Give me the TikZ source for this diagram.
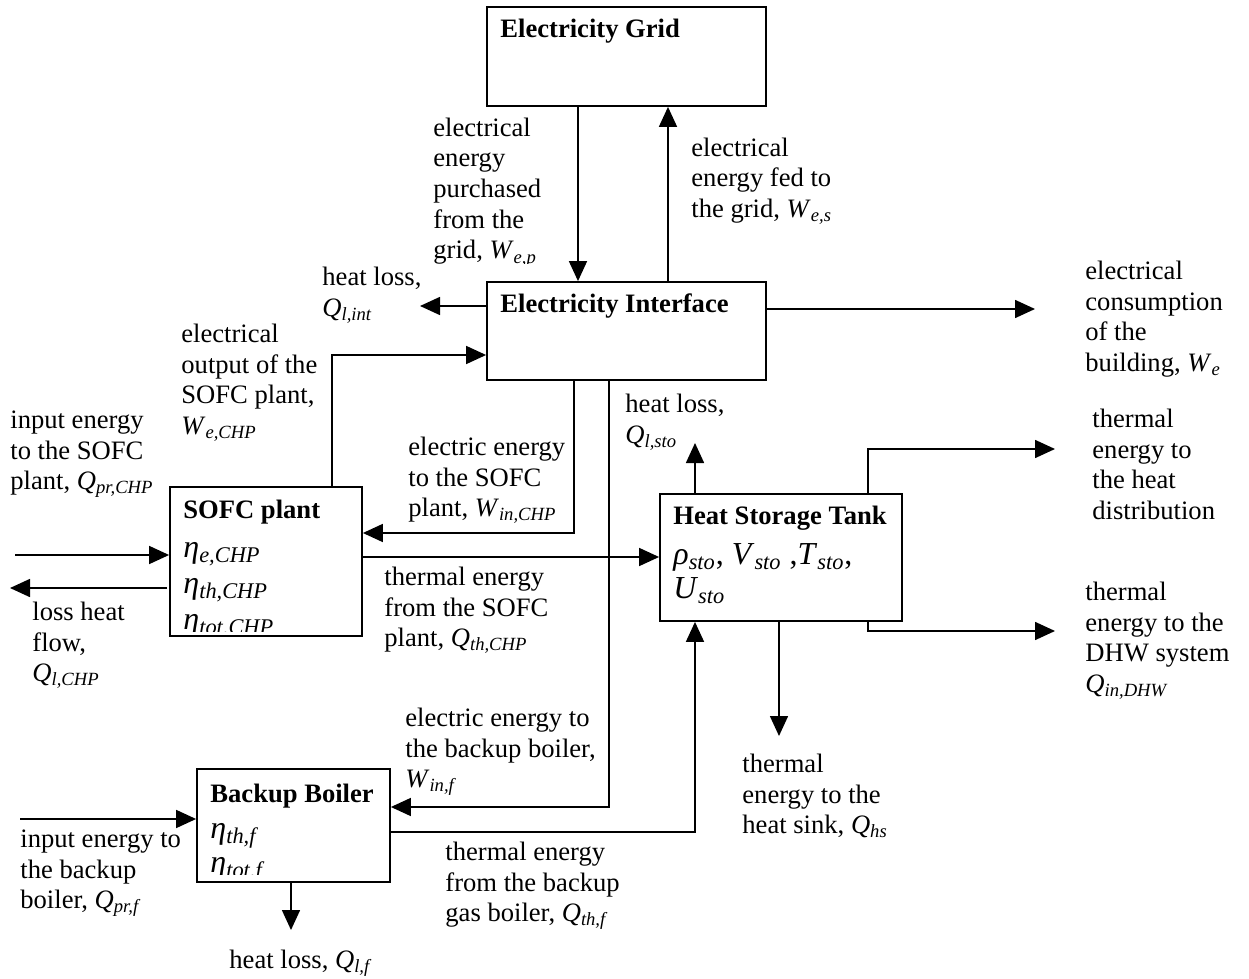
\documentclass[tikz,border=0pt]{standalone}
\usepackage{fontspec}
\setmainfont{Liberation Serif}
\usetikzlibrary{arrows.meta,fit}
\newcommand\sbs[2]{\textit{#1}\textsubscript{\textit{#2}}}
\newcommand\fs{\rule{0pt}{10pt}}
\tikzset{
 box/.style={draw, line width=0.9pt, inner sep=0pt},
 lbl/.style={anchor=north west, inner sep=0pt, align=left, font=\fontsize{13.3}{15.3}\selectfont},
 ttl/.style={anchor=base west, inner sep=0pt, font=\fontsize{13.3}{15.3}\selectfont\bfseries},
 prm/.style={anchor=base west, inner sep=0pt, font=\fontsize{16}{18}\selectfont},
 flow/.style={line width=0.8pt, -{Triangle[length=10pt,width=9pt]}},
}
\begin{document}
\begin{tikzpicture}[x=0.5pt,y=-0.5pt]
\useasboundingbox (0,0) rectangle (1249,979);
% boxes
\node[box, fit={(487,7) (766,106)}] (grid) {};
\node[box, fit={(487,282) (766,380)}] (iface) {};
\node[box, fit={(170,487) (362,636)}] (sofc) {};
\node[box, fit={(660,494) (902,621)}] (tank) {};
\node[box, fit={(197,769) (390,882)}] (boil) {};
% titles
\node[ttl] (tgrid) at (500,38) {Electricity Grid};
\node[ttl] (tiface) at (500,313) {Electricity Interface};
\node[ttl] (tsofc) at (183,518) {SOFC plant};
\node[ttl] (ttank) at (673,524) {Heat Storage Tank};
\node[ttl] (tboil) at (210,802) {Backup Boiler};
% parameters
\node[prm] (p1) at (183,557) {\sbs{η}{e,CHP}};
\node[prm] (p2) at (183,593) {\sbs{η}{th,CHP}};
\begin{scope}
\clip (170,487) rectangle (362,631);
\node[prm] (p3) at (183,629) {\sbs{η}{tot,CHP}};
\end{scope}
\node[prm] (p4) at (673,564) {\sbs{ρ}{sto}, \sbs{V}{sto} ,\sbs{T}{sto},};
\node[prm] (p5) at (673,598) {\sbs{U}{sto}};
\node[prm] (p6) at (210,838) {\sbs{η}{th,f}};
\begin{scope}
\clip (197,769) rectangle (390,874);
\node[prm] (p7) at (210,872) {\sbs{η}{tot,f}};
\end{scope}
% coordinates
\coordinate (xa) at (578,0);
\coordinate (xb) at (668,0);
\coordinate (hl1) at (420,306);
\coordinate (we) at (1035,309);
\coordinate (xc) at (332,355);
\coordinate (xd) at (574,533);
\coordinate (yq) at (0,557);
\coordinate (xe) at (609,807);
\coordinate (xf) at (695,832);
\coordinate (hl2) at (695,443);
\coordinate (xg) at (868,449);
\coordinate (hd) at (1055,449);
\coordinate (xh) at (868,631);
\coordinate (dhw) at (1055,631);
\coordinate (hs) at (779,736);
\coordinate (in1) at (15,555);
\coordinate (ls0) at (167,588);
\coordinate (ls1) at (10,588);
\coordinate (in2) at (20,819);
\coordinate (hl3) at (291,930);
% connectors
\draw[flow] (grid.south -| xa) -- (iface.north -| xa);
\draw[flow] (iface.north -| xb) -- (grid.south -| xb);
\draw[flow] (iface.west |- hl1) -- (hl1);
\draw[flow] (iface.east |- we) -- (we);
\draw[flow] (sofc.north -| xc) |- (iface.west |- xc);
\draw[flow] (iface.south -| xd) |- (sofc.east |- xd);
\draw[flow] (sofc.east |- yq) -- (tank.west |- yq);
\draw[flow] (iface.south -| xe) |- (boil.east |- xe);
\draw[flow] (boil.east |- xf) -| (tank.south -| xf);
\draw[flow] (tank.north -| hl2) -- (hl2);
\draw[flow] (tank.north -| xg) |- (hd);
\draw[flow] (tank.south -| xh) |- (dhw);
\draw[flow] (tank.south -| hs) -- (hs);
\draw[flow] (in1) -- (sofc.west |- in1);
\draw[flow] (ls0) -- (ls1);
\draw[flow] (in2) -- (boil.west |- in2);
\draw[flow] (boil.south -| hl3) -- (hl3);
% labels
\begin{scope}
\clip (400,110) rectangle (570,263);
\node[lbl] (l1) at (433,116) {\fs electrical\\energy\\purchased\\from the\\grid, \sbs{W}{e,p}};
\end{scope}
\node[lbl] (l2) at (691,136) {\fs electrical\\energy fed to\\the grid, \sbs{W}{e,s}};
\node[lbl] (l3) at (322,265) {\fs heat loss,\\\sbs{Q}{l,int}};
\node[lbl] (l4) at (181,322) {\fs electrical\\output of the\\SOFC plant,\\\sbs{W}{e,CHP}};
\node[lbl] (l5) at (10,408) {\fs input energy\\to the SOFC\\plant, \sbs{Q}{pr,CHP}};
\begin{scope}
\clip (0,595) rectangle (165,688);
\node[lbl] (l6) at (32,600) {\fs loss heat\\flow,\\\sbs{Q}{l,CHP}};
\end{scope}
\node[lbl] (l7) at (408,435) {\fs electric energy\\to the SOFC\\plant, \sbs{W}{in,CHP}};
\node[lbl] (l8) at (384,565) {\fs thermal energy\\from the SOFC\\plant, \sbs{Q}{th,CHP}};
\node[lbl] (l9) at (625,392) {\fs heat loss,\\\sbs{Q}{l,sto}};
\node[lbl] (l10) at (1092,407) {\fs thermal\\energy to\\the heat\\distribution};
\node[lbl] (l11) at (1085,259) {\fs electrical\\consumption\\of the\\building, \sbs{W}{e}};
\node[lbl] (l12) at (1085,580) {\fs thermal\\energy to the\\DHW system\\\sbs{Q}{in,DHW}};
\node[lbl] (l13) at (405,706) {\fs electric energy to\\the backup boiler,\\\sbs{W}{in,f}};
\node[lbl] (l14) at (20,827) {\fs input energy to\\the backup\\boiler, \sbs{Q}{pr,f}};
\node[lbl] (l15) at (445,840) {\fs thermal energy\\from the backup\\gas boiler, \sbs{Q}{th,f}};
\node[lbl] (l16) at (229,948) {\fs heat loss, \sbs{Q}{l,f}};
\node[lbl] (l17) at (742,752) {\fs thermal\\energy to the\\heat sink, \sbs{Q}{hs}};
\end{tikzpicture}
\end{document}
